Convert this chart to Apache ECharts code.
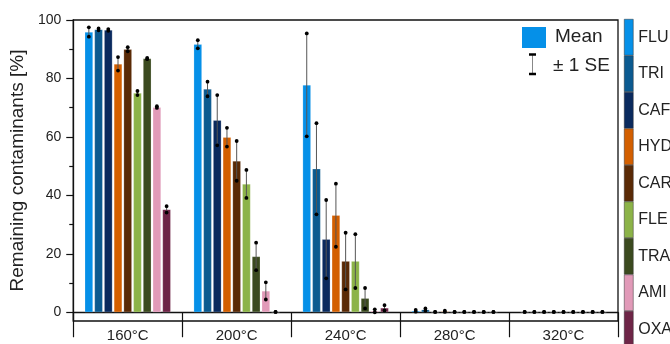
<!DOCTYPE html>
<html><head><meta charset="utf-8">
<script src="https://cdn.jsdelivr.net/npm/echarts@6/dist/echarts.min.js"></script>
<style>html,body{margin:0;padding:0;background:#fff}#c{width:670px;height:344px}</style>
</head><body><div id="c"></div>
<script>
const categories = ['160°C','200°C','240°C','280°C','320°C'];
const compounds = ['FLU','TRI','CAF','HYD','CAR','FLE','TRA','AMI','OXA'];
const yTicks = [0,20,40,60,80,100];
const yMinorTicks = [10,30,50,70,90];

// mean remaining [%] per compound across temperatures
const FLU = [95.9, 91.7, 77.8, 0.5, 0.1];
const TRI = [96.8, 76.4, 49.1, 0.9, 0.1];
const CAF = [96.6, 65.7, 25.0, 0.1, 0.1];
const HYD = [85.0, 59.9, 33.2, 0.3, 0.1];
const CAR = [90.0, 51.8, 17.5, 0.1, 0.1];
const FLE = [75.0, 43.9, 17.5, 0.1, 0.1];
const TRA = [86.8, 19.1, 4.8, 0.1, 0.1];
const AMI = [70.2, 7.3, 0.5, 0.1, 0.1];
const OXA = [35.2, 0.1, 1.5, 0.1, 0.1];
// standard errors
const FLU_se = [1.6, 1.4, 17.6, 0.3, 0];
const TRI_se = [0.3, 2.5, 15.6, 0.4, 0];
const CAF_se = [0.3, 8.6, 13.4, 0, 0];
const HYD_se = [2.3, 3.2, 10.8, 0.2, 0];
const CAR_se = [0.7, 6.8, 9.7, 0, 0];
const FLE_se = [0.7, 4.8, 9.2, 0, 0];
const TRA_se = [0.2, 4.7, 3.5, 0, 0];
const AMI_se = [0.3, 2.95, 0.5, 0, 0];
const OXA_se = [1.1, 0, 0.9, 0, 0];

const means = [FLU, TRI, CAF, HYD, CAR, FLE, TRA, AMI, OXA];
const ses = [FLU_se, TRI_se, CAF_se, HYD_se, CAR_se, FLE_se, TRA_se, AMI_se, OXA_se];
const colors = ['#0590e8','#0b5a90','#0a2a5e','#d35f00','#5a2a06','#8cb348','#3b4a1f','#e19ab8','#6e2547'];

const CAT_GAP = 0.21, BAR_GAP = 0.17, N = compounds.length;
const FONT = '"Liberation Sans", Arial, sans-serif';

const series = [];
compounds.forEach((name, i) => {
  series.push({
    name, type: 'bar', data: means[i],
    barGap: (BAR_GAP*100)+'%', barCategoryGap: (CAT_GAP*100)+'%',
    itemStyle: { color: colors[i], borderColor: 'rgba(255,255,255,0.35)', borderWidth: 0.6 }, z: 2
  });
});
compounds.forEach((name, i) => {
  series.push({
    name: name + '_err', type: 'custom', z: 5,
    data: categories.map((c, k) => [k, means[i][k], ses[i][k]]),
    renderItem: (params, api) => {
      const k = api.value(0), m = api.value(1), s = api.value(2);
      const band = api.size([1, 0])[0];
      const groupW = band * (1 - CAT_GAP);
      const bw = groupW / (N + (N - 1) * BAR_GAP);
      const c = api.coord([k, m]);
      const x = c[0] - groupW / 2 + i * bw * (1 + BAR_GAP) + bw / 2;
      const yt = api.coord([k, m + s])[1];
      const yb = api.coord([k, Math.max(m - s, 0)])[1];
      return { type: 'group', children: [
        { type: 'line', shape: { x1: x, y1: yt, x2: x, y2: yb }, style: { stroke: '#555', lineWidth: 1 } },
        { type: 'circle', shape: { cx: x, cy: yt, r: 1.9 }, style: { fill: '#000' } },
        { type: 'circle', shape: { cx: x, cy: yb, r: 1.9 }, style: { fill: '#000' } }
      ]};
    }
  });
});

const chart = echarts.init(document.getElementById('c'));
chart.setOption({
  animation: false,
  textStyle: { fontFamily: FONT },
  grid: { left: 73, right: 52, top: 20, bottom: 23, show: true, borderColor: '#111', borderWidth: 1.3, backgroundColor: 'transparent' },
  xAxis: {
    type: 'category', data: categories,
    axisLine: { lineStyle: { color: '#111', width: 1.3 } },
    axisTick: { show: true, interval: 0, length: 25, lineStyle: { color: '#111', width: 1.2 } },
    axisLabel: { interval: 0, margin: 7, fontSize: 15, color: '#222', fontFamily: FONT }
  },
  yAxis: [{
    type: 'value', min: -3, max: 100,
    name: 'Remaining contaminants [%]', nameLocation: 'middle', nameGap: 42,
    nameTextStyle: { fontSize: 19, color: '#222', fontFamily: FONT },
    axisLine: { show: true, lineStyle: { color: '#111', width: 1.3 } },
    axisTick: { show: true, length: 7, customValues: yTicks, lineStyle: { color: '#111', width: 1.2 } },
    axisLabel: { customValues: yTicks, fontSize: 14, color: '#222', margin: 12, fontFamily: FONT },
    splitLine: { show: false }
  }, {
    type: 'value', min: -3, max: 100, position: 'left',
    axisLine: { show: false },
    axisTick: { show: true, length: 4, customValues: yMinorTicks, lineStyle: { color: '#111', width: 1.2 } },
    axisLabel: { show: false }, splitLine: { show: false }
  }],
  legend: {
    data: compounds, orient: 'vertical', left: 624, top: 19, height: 400, width: 60,
    itemWidth: 9, itemHeight: 36, itemGap: 0, icon: 'rect', selectedMode: false,
    padding: 0, itemStyle: { borderColor: '#333', borderWidth: 0.5 },
    textStyle: { fontSize: 16, color: '#222', fontFamily: FONT, padding: [0, 0, 0, 0] }
  },
  graphic: [
    { type: 'rect', shape: { x: 522, y: 27, width: 24, height: 21 }, style: { fill: colors[0] } },
    { type: 'text', x: 555, y: 37, style: { text: 'Mean', fontSize: 19, fill: '#222', verticalAlign: 'middle', fontFamily: FONT } },
    { type: 'line', shape: { x1: 532.5, y1: 54.5, x2: 532.5, y2: 74 }, style: { stroke: '#888', lineWidth: 1 } },
    { type: 'line', shape: { x1: 529, y1: 54.5, x2: 536, y2: 54.5 }, style: { stroke: '#000', lineWidth: 2.5 } },
    { type: 'line', shape: { x1: 529, y1: 74, x2: 536, y2: 74 }, style: { stroke: '#000', lineWidth: 2.5 } },
    { type: 'text', x: 553, y: 66, style: { text: '± 1 SE', fontSize: 19, fill: '#222', verticalAlign: 'middle', fontFamily: FONT } }
  ],
  series
});
</script></body></html>
